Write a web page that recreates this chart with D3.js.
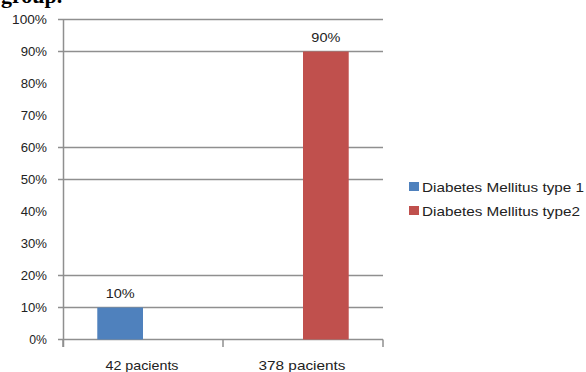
<!DOCTYPE html>
<html><head><meta charset="utf-8">
<script src="https://cdn.jsdelivr.net/npm/d3@7"></script>
<style>html,body{margin:0;padding:0;background:#fff;}svg{display:block;}</style>
</head><body>
<svg id="c" width="586" height="372"></svg>
<script>
const categories = ["42 pacients", "378 pacients"];
const seriesNames = ["Diabetes Mellitus type 1", "Diabetes Mellitus type2"];
const type1Values = [10, 0];
const type2Values = [0, 90];
const tickValues = [0,10,20,30,40,50,60,70,80,90,100];
const tickLabels = ["0%","10%","20%","30%","40%","50%","60%","70%","80%","90%","100%"];
const visibleGridValues = [0,10,20,50,60,90,100];
const dataLabels = [["10%", null], [null, "90%"]];
const colors = ["#4f81bd", "#c0504d"];
const series = [type1Values, type2Values];

const svg = d3.select("#c");
const gray = "#8f8f8f";
const font = "'Liberation Sans', Arial, sans-serif";

// title fragment
svg.append("text").attr("x", 1).attr("y", 3)
  .attr("font-family", "'Liberation Serif', 'Times New Roman', serif")
  .attr("font-weight", "bold").attr("font-size", 22).attr("fill", "#000")
  .text("group.");

const x = d3.scaleBand().domain(categories).range([63, 383]);
const xi = d3.scaleBand().domain([0,1]).range([0, x.bandwidth()]).paddingInner(0).paddingOuter(0.75);
const y = d3.scaleLinear().domain([0, 100]).range([339.5, 19.5]);

// gridlines
svg.append("g").selectAll("line").data(visibleGridValues).join("line")
  .attr("x1", 58).attr("x2", 383)
  .attr("y1", d => y(d)).attr("y2", d => y(d))
  .attr("stroke", gray).attr("stroke-width", 1.5);

// y axis line
svg.append("line").attr("x1", 63.5).attr("x2", 63.5).attr("y1", y(100)).attr("y2", 347)
  .attr("stroke", gray).attr("stroke-width", 1.5);

// y tick labels
svg.append("g").selectAll("text").data(tickValues).join("text")
  .attr("x", 47).attr("y", d => y(d) + 4.5)
  .attr("text-anchor", "end").attr("font-family", font).attr("font-size", 13)
  .attr("fill", "#222")
  .attr("textLength", (d,i) => tickLabels[i].length * 8.6 + 0.5)
  .attr("lengthAdjust", "spacingAndGlyphs")
  .text((d,i) => tickLabels[i]);

// category ticks
const catEdges = [x.range()[0], x(categories[1]), x.range()[1]];
svg.append("g").selectAll("line").data(catEdges).join("line")
  .attr("x1", d => d).attr("x2", d => d).attr("y1", y(0)).attr("y2", 347)
  .attr("stroke", gray).attr("stroke-width", 1.5);

// bars
series.forEach((vals, s) => {
  svg.append("g").selectAll("rect").data(vals.map((v,i)=>({v,i}))).join("rect")
    .filter(d => d.v > 0)
    .attr("x", d => x(categories[d.i]) + xi(s))
    .attr("width", xi.bandwidth())
    .attr("y", d => y(d.v))
    .attr("height", d => y(0) - y(d.v))
    .attr("fill", colors[s]);
  svg.append("g").selectAll("text").data(vals.map((v,i)=>({v,i}))).join("text")
    .filter(d => dataLabels[s][d.i] !== null)
    .attr("x", d => x(categories[d.i]) + xi(s) + xi.bandwidth()/2)
    .attr("y", d => y(d.v) - 10)
    .attr("text-anchor", "middle").attr("font-family", font).attr("font-size", 13)
    .attr("fill", "#222")
    .attr("textLength", 29).attr("lengthAdjust", "spacingAndGlyphs")
    .text(d => dataLabels[s][d.i]);
});

// category labels
const catWidths = [73, 87];
svg.append("g").selectAll("text").data(categories).join("text")
  .attr("x", d => x(d) + x.bandwidth()/2 - 1)
  .attr("y", 370)
  .attr("text-anchor", "middle").attr("font-family", font).attr("font-size", 13)
  .attr("fill", "#222")
  .attr("textLength", (d,i) => catWidths[i]).attr("lengthAdjust", "spacingAndGlyphs")
  .text(d => d);

// legend
const leg = svg.append("g").selectAll("g").data(seriesNames).join("g")
  .attr("transform", (d,i) => `translate(409, ${182 + i*24})`);
leg.append("rect").attr("width", 10).attr("height", 9).attr("fill", (d,i) => colors[i]);
leg.append("text").attr("x", 13).attr("y", 9.5)
  .attr("font-family", font).attr("font-size", 13).attr("fill", "#222")
  .attr("textLength", (d,i) => i === 0 ? 162 : 158).attr("lengthAdjust", "spacingAndGlyphs")
  .text(d => d);
</script>
</body></html>
